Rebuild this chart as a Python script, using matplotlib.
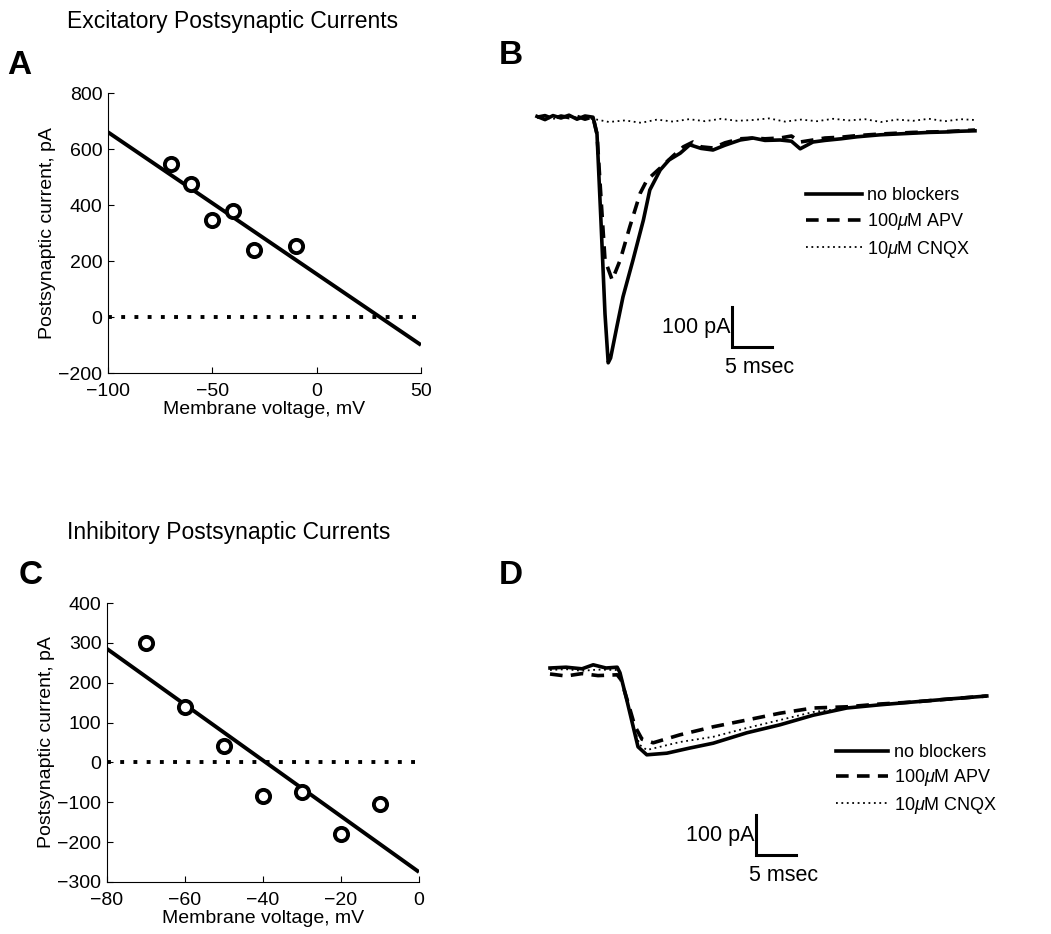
import numpy as np
import matplotlib
matplotlib.use("Agg")
import matplotlib.pyplot as plt

plt.rcParams['font.family'] = ['Liberation Sans', 'DejaVu Sans']
plt.rcParams['mathtext.fontset'] = 'custom'
plt.rcParams['mathtext.it'] = 'Liberation Sans:italic'
plt.rcParams['mathtext.rm'] = 'Liberation Sans'

W, H = 1051, 934

# --- Panel A: EPSC I-V ---
epsc_v = [-70, -60, -50, -40, -30, -10]
epsc_i = [545, 475, 345, 380, 240, 255]
epsc_fit_v = [-100, 50]
epsc_fit_i = [660, -100]

# --- Panel C: IPSC I-V ---
ipsc_v = [-70, -60, -50, -40, -30, -20, -10]
ipsc_i = [300, 140, 40, -85, -75, -180, -105]
ipsc_fit_v = [-80, 0]
ipsc_fit_i = [285, -275]

# --- Panel B: EPSC traces (time in ms, current in pA) ---
b_nob_t = [0, 1, 2, 3, 4, 5, 6, 7, 7.5, 8.0, 8.5, 8.9, 9.2, 10.0, 10.75, 12.0, 13.3,
           14.1, 15.4, 16.5, 17.9, 19.1, 20.5, 22, 23.5, 25.4, 27, 28.5, 30.4, 31.8,
           32.9, 34.5, 36, 38, 40, 42.9, 45, 47, 49, 51, 53, 54.75]
b_nob_i = [4, -4, 6, 0, 7, -3, 5, 2, -40, -260, -490, -612, -600, -520, -447, -355, -255,
           -180, -130, -105, -88, -67, -76, -80, -68, -55, -50, -56, -55, -58,
           -77, -60, -56, -52, -47, -42, -40, -38, -36, -35, -33, -32]

b_apv_t = [0, 1, 2, 3, 4, 5, 6, 7, 7.5, 8.0, 8.5, 9.4, 10.4, 11.6, 12.9, 13.75, 15.4,
           17.0, 18.3, 19.5, 20.5, 22, 23.5, 25.4, 27, 28.5, 30.4, 31.8, 32.9, 34.5,
           36, 38, 40, 42.9, 45, 47, 49, 51, 53, 54.75]
b_apv_i = [2, 6, -2, 5, 1, 4, -3, 3, -40, -200, -355, -405, -355, -272, -188, -155, -125,
           -95, -72, -60, -72, -75, -62, -52, -50, -52, -50, -45, -60, -55,
           -50, -48, -44, -40, -38, -36, -35, -34, -32, -30]

b_cnqx_t = [0, 2, 4, 6, 7.5, 9, 11, 13, 15, 17, 19, 21, 23, 25, 27, 29, 31, 33, 35,
            37, 39, 41, 43, 45, 47, 49, 51, 53, 54.75]
b_cnqx_i = [2, -2, 3, 0, -4, -10, -6, -12, -4, -9, -3, -8, -2, -7, -5, -1, -9, -4, -8,
            -2, -6, -3, -10, -4, -7, -2, -8, -3, -5]

# --- Panel D: IPSC traces ---
d_nob_t = [0, 2, 4, 5.4, 7, 8.4, 8.75, 9.6, 10.4, 11.0, 12.1, 14.6, 17.5, 20.4, 24.6,
           28.75, 32.9, 37.1, 41.25, 45.4, 49.6, 54.6]
d_nob_i = [0, 2, -2, 8, 0, 2, -12, -80, -147, -197, -217, -213, -200, -188, -162,
           -142, -118, -100, -92, -85, -78, -70]

d_apv_t = [0, 2, 4, 6, 8.4, 8.9, 9.8, 10.6, 11.5, 12.9, 16.25, 20.4, 24.6, 28.75,
           32.9, 37.1, 41.25, 45.4, 49.6, 54.6]
d_apv_i = [-15, -20, -14, -19, -17, -30, -90, -145, -178, -187, -167, -147, -130, -113,
           -100, -97, -90, -85, -78, -70]

d_cnqx_t = [0, 2, 4, 6, 8.4, 8.8, 9.7, 10.5, 11.2, 12.1, 16.25, 20.4, 24.6, 28.75,
            32.9, 37.1, 41.25, 45.4, 49.6, 54.6]
d_cnqx_i = [-5, -3, -7, -4, -5, -18, -88, -150, -192, -205, -185, -172, -150, -130,
            -110, -100, -92, -85, -78, -70]

legend_labels = ['no blockers', r'100$\mu$M APV', r'10$\mu$M CNQX']


def px_axes(fig, left, top, right, bottom):
    return fig.add_axes([left / W, 1 - bottom / H, (right - left) / W, (bottom - top) / H])


def minus_fmt(x, p):
    return ('%d' % x).replace('-', '\u2212')


def iv_panel(ax, v, i, fv, fi, xlim, ylim, xticks, yticks):
    ax.plot(fv, fi, color='black', lw=2.8, solid_capstyle='butt')
    ax.plot(xlim, [0, 0], color='black', lw=2.8, dashes=(1, 2.4))
    ax.plot(v, i, linestyle='none', marker='o', ms=9.5, mfc='white', mec='black', mew=2.8)
    ax.set_xlim(xlim)
    ax.set_ylim(ylim)
    ax.set_xticks(xticks)
    ax.set_yticks(yticks)
    ax.spines['top'].set_visible(False)
    ax.spines['right'].set_visible(False)
    ax.tick_params(direction='in', length=4, labelsize=14)
    ax.tick_params(axis='x', pad=7)
    ax.tick_params(axis='y', pad=4)
    ax.set_ylabel('Postsynaptic current, pA', fontsize=14, labelpad=2)
    ax.set_xlabel('Membrane voltage, mV', fontsize=14, labelpad=1)
    ax.xaxis.set_major_formatter(matplotlib.ticker.FuncFormatter(minus_fmt))
    ax.yaxis.set_major_formatter(matplotlib.ticker.FuncFormatter(minus_fmt))


def trace_panel(ax, nob, apv, cnqx, bar_t, bar_i, leg_anchor, handlelen, spacing):
    ax.plot(cnqx[0], cnqx[1], color='black', lw=1.3, dashes=(1, 2))
    ax.plot(apv[0], apv[1], color='black', lw=2.6, dashes=(3.5, 2.3))
    ax.plot(nob[0], nob[1], color='black', lw=2.6)
    # scale bar: 100 pA x 5 msec
    ax.plot([bar_t, bar_t, bar_t + 5], [bar_i + 100, bar_i, bar_i], color='black', lw=2.2,
            solid_joinstyle='miter')
    ax.text(bar_t - 0.2, bar_i + 50, '100 pA', ha='right', va='center', fontsize=15.5)
    ax.text(bar_t + 3.4, bar_i - 52, '5 msec', ha='center', va='center', fontsize=15.5)
    ax.axis('off')
    h1, = ax.plot([], [], color='black', lw=2.6)
    h2, = ax.plot([], [], color='black', lw=2.6, dashes=(3.5, 2.3))
    h3, = ax.plot([], [], color='black', lw=1.3, dashes=(1, 2))
    ax.legend([h1, h2, h3], legend_labels, loc='upper left', frameon=False,
              bbox_to_anchor=leg_anchor, bbox_transform=ax.figure.transFigure,
              borderpad=0, borderaxespad=0, handlelength=handlelen, handletextpad=0.3,
              labelspacing=spacing, fontsize=13)


fig = plt.figure(figsize=(W / 100, H / 100), dpi=100)

axA = px_axes(fig, 108, 93, 421, 373)
iv_panel(axA, epsc_v, epsc_i, epsc_fit_v, epsc_fit_i, [-100, 50], [-200, 800],
         [-100, -50, 0, 50], [-200, 0, 200, 400, 600, 800])

axC = px_axes(fig, 107, 603, 419, 882)
iv_panel(axC, ipsc_v, ipsc_i, ipsc_fit_v, ipsc_fit_i, [-80, 0], [-300, 400],
         [-80, -60, -40, -20, 0], [-300, -200, -100, 0, 100, 200, 300, 400])

# B: 8 px per ms, 2.5 pA per px; t=0 at x=537, I=0 at y=118
axB = px_axes(fig, 520, 90, 1040, 400)
axB.set_xlim(-17 / 8, (1040 - 537) / 8)
axB.set_ylim(-(400 - 118) * 2.5, (118 - 90) * 2.5)
trace_panel(axB, (b_nob_t, b_nob_i), (b_apv_t, b_apv_i), (b_cnqx_t, b_cnqx_i),
            24.4, -572.5, (806 / W, 1 - 187 / H), 3.1, 0.38)

# D: t=0 at x=550, I=0 at y=668
axD = px_axes(fig, 520, 600, 1045, 900)
axD.set_xlim(-30 / 8, (1045 - 550) / 8)
axD.set_ylim(-(900 - 668) * 2.5, (668 - 600) * 2.5)
trace_panel(axD, (d_nob_t, d_nob_i), (d_apv_t, d_apv_i), (d_cnqx_t, d_cnqx_i),
            25.75, -467.5, (836 / W, 1 - 744 / H), 2.9, 0.35)

fig.text(67 / W, 1 - 10 / H, 'Excitatory Postsynaptic Currents', fontsize=16.5, va='top')
fig.text(67 / W, 1 - 521 / H, 'Inhibitory Postsynaptic Currents', fontsize=16.5, va='top')
for lab, x, y in [('A', 7, 50), ('B', 499, 40), ('C', 19, 560), ('D', 499, 560)]:
    fig.text(x / W, 1 - y / H, lab, fontsize=24, fontweight='bold', va='top')

fig.savefig('out.png', dpi=100)
